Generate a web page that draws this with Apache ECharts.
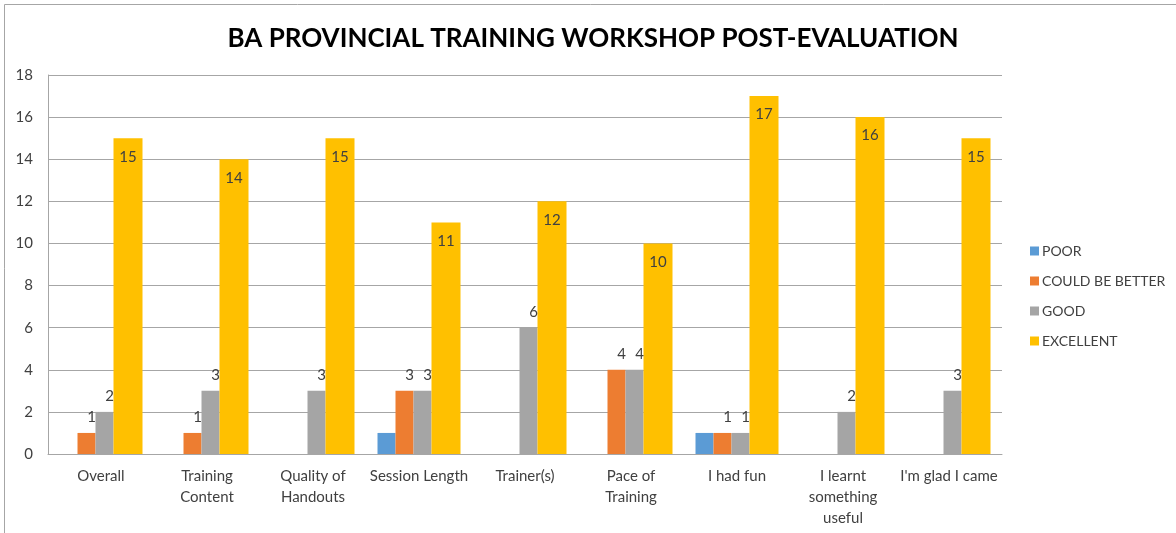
<!DOCTYPE html>
<html><head><meta charset="utf-8">
<script src="https://cdn.jsdelivr.net/npm/echarts@6/dist/echarts.min.js"></script>
<style>html,body{margin:0;padding:0;background:#fff}#c{width:1176px;height:533px}</style>
</head><body><div id="c"></div>
<script>
const categories = ["Overall", "Training\nContent", "Quality of\nHandouts", "Session Length", "Trainer(s)", "Pace of\nTraining", "I had fun", "I learnt\nsomething\nuseful", "I'm glad I came"];
const seriesNames = ["POOR", "COULD BE BETTER", "GOOD", "EXCELLENT"];
const poor = [0, 0, 0, 1, 0, 0, 1, 0, 0];
const couldBeBetter = [1, 1, 0, 3, 0, 4, 1, 0, 0];
const good = [2, 3, 3, 3, 6, 4, 1, 2, 3];
const excellent = [15, 14, 15, 11, 12, 10, 17, 16, 15];
const yTicks = [0, 2, 4, 6, 8, 10, 12, 14, 16, 18];
const colors = ["#5B9BD5", "#ED7D31", "#A5A5A5", "#FFC000"];

const font = "Lato, 'Open Sans', sans-serif";
const smallLabel = {
  show: true, position: 'top', distance: 8, offset: [5, 0],
  color: '#404040', fontSize: 15, fontFamily: font,
  formatter: p => p.value === 0 ? '' : String(p.value)
};
const chart = echarts.init(document.getElementById('c'), null, {renderer: 'canvas'});
chart.setOption({
  animation: false,
  backgroundColor: '#fff',
  title: {
    text: 'BA PROVINCIAL TRAINING WORKSHOP POST-EVALUATION',
    left: 588, top: 21, textAlign: 'center',
    textStyle: {fontFamily: font, fontWeight: 'bold', fontSize: 26, color: '#000'}
  },
  legend: {
    orient: 'vertical', left: 1025, top: 239, itemGap: 16,
    itemWidth: 9, itemHeight: 9, icon: 'rect',
    textStyle: {fontFamily: font, fontSize: 14, color: '#404040', padding: [0,0,0,-2]},
    data: seriesNames
  },
  grid: {left: 48, right: 174, top: 75, bottom: 79, containLabel: false},
  xAxis: {
    type: 'category', data: categories,
    axisLine: {lineStyle: {color: '#A6A6A6'}},
    axisTick: {show: false},
    axisLabel: {interval: 0, color: '#404040', fontSize: 15, fontFamily: font, lineHeight: 21, margin: 12}
  },
  yAxis: {
    type: 'value', min: yTicks[0], max: yTicks[yTicks.length-1], interval: 2,
    axisLine: {show: true, lineStyle: {color: '#A6A6A6'}},
    axisTick: {show: false},
    splitLine: {lineStyle: {color: '#A6A6A6'}},
    axisLabel: {color: '#404040', fontSize: 15, fontFamily: font, margin: 15}
  },
  series: [
    {name: seriesNames[0], type: 'bar', data: poor, barWidth: 18, barGap: '0%', itemStyle: {color: colors[0]}},
    {name: seriesNames[1], type: 'bar', data: couldBeBetter, barWidth: 18, barGap: '0%', itemStyle: {color: colors[1]}, label: smallLabel},
    {name: seriesNames[2], type: 'bar', data: good, barWidth: 18, barGap: '0%', itemStyle: {color: colors[2]}, label: smallLabel},
    {name: seriesNames[3], type: 'bar', data: excellent, barWidth: 29, barGap: '0%', itemStyle: {color: colors[3]},
      label: {show: true, position: 'insideTop', distance: 11, color: '#404040', fontSize: 15, fontFamily: font}}
  ],
  graphic: [
    {type: 'line', shape: {x1: 4.5, y1: 4.5, x2: 1176, y2: 4.5}, style: {stroke: '#A6A6A6', lineWidth: 1}, silent: true},
    {type: 'line', shape: {x1: 4.5, y1: 4.5, x2: 4.5, y2: 533}, style: {stroke: '#A6A6A6', lineWidth: 1}, silent: true}
  ]
});
</script></body></html>
